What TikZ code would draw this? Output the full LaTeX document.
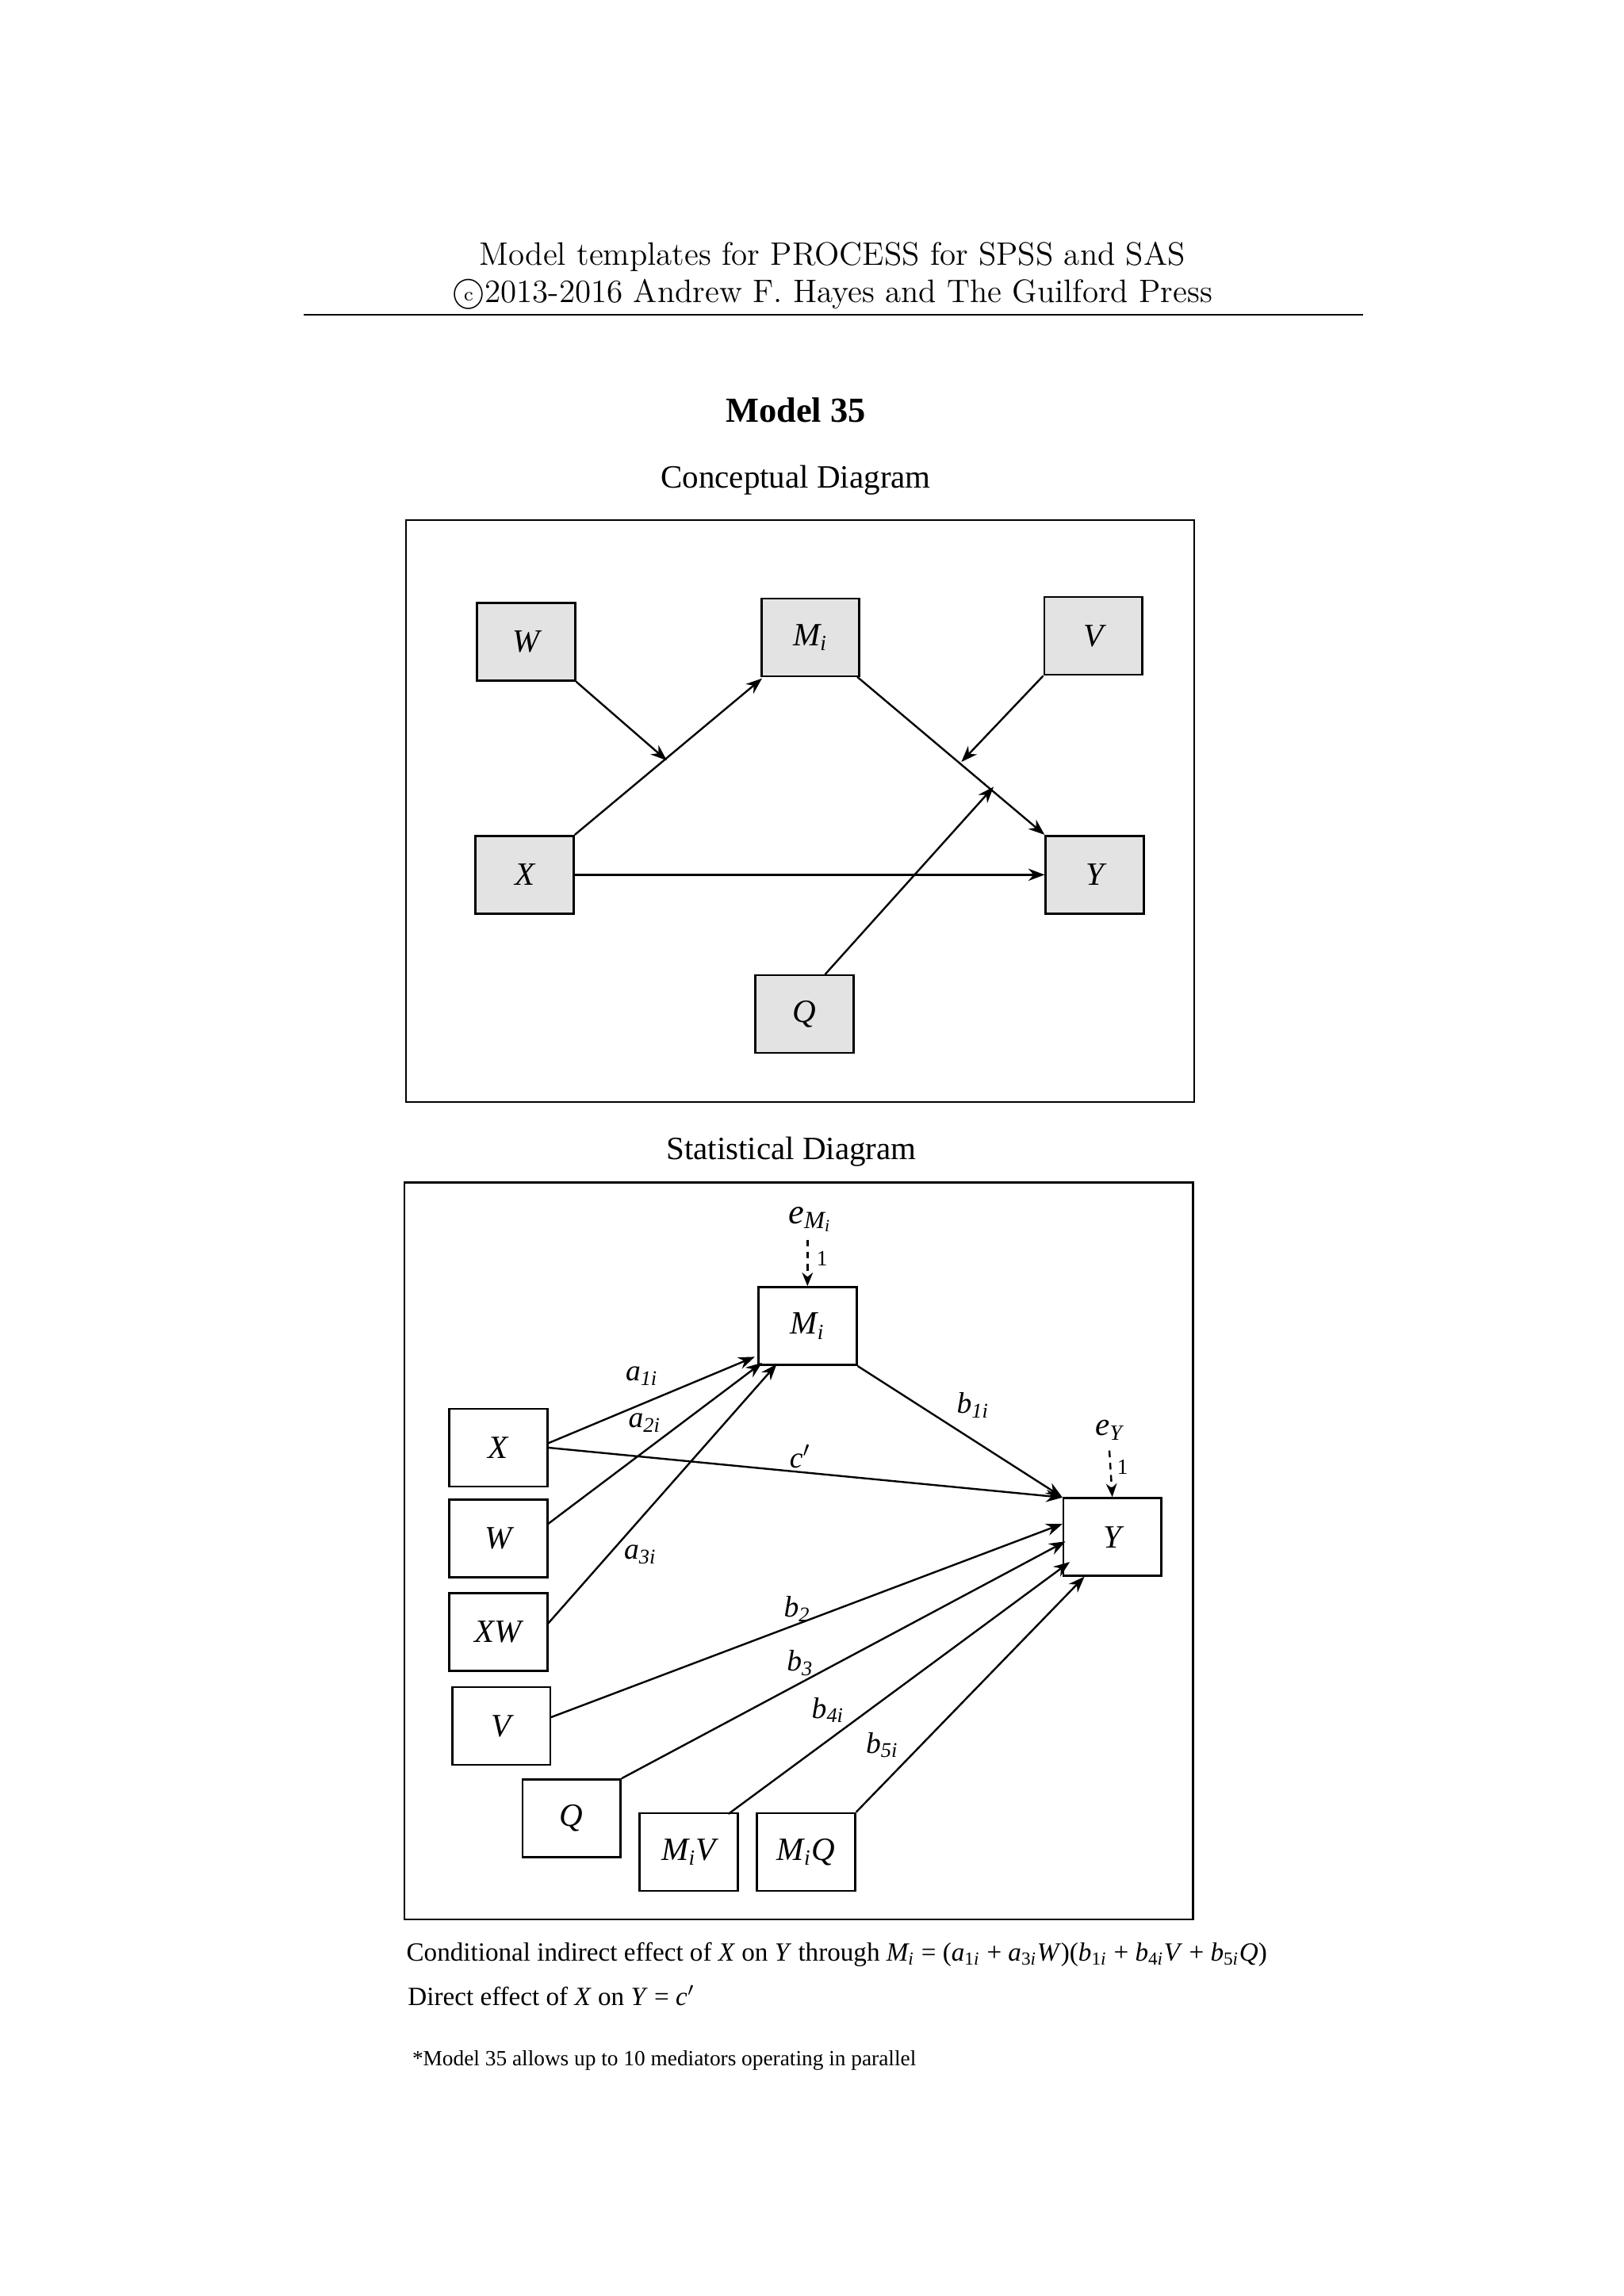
\documentclass[tikz,border=0pt]{standalone}
\usepackage{fontspec}
\setmainfont{Liberation Serif}
\usetikzlibrary{arrows.meta}
\newcommand{\sbx}[1]{\textsubscript{\textit{#1}}}
\begin{document}
\begin{tikzpicture}[x=0.541pt,y=-0.541pt,
  box/.style={draw,line width=0.8pt,minimum width=36.2pt,minimum height=28.7pt,inner sep=0pt,font=\fontsize{12}{14}\selectfont\itshape},
  gbox/.style={box,fill=gray!22},
  arr/.style={line width=0.7pt,-{Stealth[length=6pt,width=4.5pt]}},
  dar/.style={line width=0.7pt,dash pattern=on 2.5pt off 2pt,-{Stealth[length=5pt,width=4pt]}},
  lab/.style={font=\fontsize{11}{13}\selectfont\itshape,inner sep=1pt}]
\useasboundingbox (0,0) rectangle (1108,1567);
% header
\node (h1) at (568,175) {\fontfamily{lmr}\selectfont\fontsize{12}{14}\selectfont Model templates for PROCESS for SPSS and SAS};
\node (h2) at (568,201) {\fontfamily{lmr}\selectfont\fontsize{12}{14}\selectfont \textcircled{\raisebox{0.3pt}{\scriptsize c}}2013-2016 Andrew F. Hayes and The Guilford Press};
\draw[line width=0.5pt] (207,215) -- (930,215);
\node (t) at (543,280) {\fontsize{13}{15}\selectfont\bfseries Model 35};
\node (ct) at (543,328) {\fontsize{12}{14}\selectfont Conceptual Diagram};
\draw[line width=0.7pt] (277,355) rectangle (815,752);
% conceptual
\node[gbox] (cW) at (359,438) {W};
\node[gbox] (cM) at (553,435) {M\sbx{i}};
\node[gbox] (cV) at (746,434) {V};
\node[gbox] (cX) at (358,597) {X};
\node[gbox] (cY) at (747,597) {Y};
\node[gbox] (cQ) at (549,692) {Q};
\coordinate (p1) at (455,519);
\coordinate (p2) at (656,520);
\coordinate (p3) at (678,537);
\draw[arr] (cX.north east) -- (520,463);
\draw[arr] (cW.south east) -- (p1);
\draw[arr] (cV.south west) -- (p2);
\draw[arr] (585,462) -- (cY.north west);
\draw[arr] (563,665) -- (p3);
\draw[arr] (cX.east) -- (cY.west);
% statistical
\node (st) at (540,786) {\fontsize{12}{14}\selectfont Statistical Diagram};
\draw[line width=0.7pt] (276,807) rectangle (814,1310);
\node[box] (M) at (551,905) {M\sbx{i}};
\node[box] (X) at (340,988) {X};
\node[box] (W) at (340,1050) {W};
\node[box] (XW) at (340,1114) {XW};
\node[box] (V) at (342,1178) {V};
\node[box] (Q) at (390,1241) {Q};
\node[box] (MV) at (470,1264) {M\sbx{i}V};
\node[box] (MQ) at (550,1264) {M\sbx{i}Q};
\node[box] (Y) at (759,1049) {Y};
\node[lab,font=\fontsize{13}{15}\selectfont\itshape] (eM) at (553,832) {e\textsubscript{M\sbx{i}}};
\node[lab,font=\fontsize{12}{14}\selectfont\itshape] (eY) at (757,976) {e\sbx{Y}};
\draw[dar] (551,846) -- (M.north);
\node[font=\fontsize{8}{9}\selectfont] (o1) at (561,859) {1};
\draw[dar] (757,990) -- (Y.north);
\node[font=\fontsize{8}{9}\selectfont] (o2) at (766,1001) {1};
\draw[arr] (374,985) -- (515,926);
\draw[arr] (374,1040) -- (520,930);
\draw[arr] (374,1108) -- (530,931);
\draw[arr] (M.south east) -- (Y.north west);
\draw[arr] (374,988) -- (725,1022);
\draw[arr] (376,1172) -- (725,1040);
\draw[arr] (Q.north east) -- (727,1052);
\draw[arr] (497,1238) -- (730,1066);
\draw[arr] (MQ.north east) -- (740,1076);
\node[lab] (l1) at (438,939) {a\textsubscript{1\textit{i}}};
\node[lab] (l2) at (440,971) {a\textsubscript{2\textit{i}}};
\node[lab] (l3) at (546,994) {c$'$};
\node[lab] (l4) at (437,1061) {a\textsubscript{3\textit{i}}};
\node[lab] (l5) at (664,959) {b\textsubscript{1\textit{i}}};
\node[lab] (l6) at (544,1098) {b\textsubscript{2}};
\node[lab] (l7) at (546,1135) {b\textsubscript{3}};
\node[lab] (l8) at (565,1167) {b\textsubscript{4\textit{i}}};
\node[lab] (l9) at (602,1191) {b\textsubscript{5\textit{i}}};
% bottom text
\node[anchor=west,inner sep=0pt,font=\fontsize{9.7}{12}\selectfont] (f1) at (277,1334) {Conditional indirect effect of \textit{X} on \textit{Y} through \textit{M\sbx{i}} = (\textit{a}\textsubscript{1\textit{i}} + \textit{a}\textsubscript{3\textit{i}}\textit{W})(\textit{b}\textsubscript{1\textit{i}} + \textit{b}\textsubscript{4\textit{i}}\textit{V} + \textit{b}\textsubscript{5\textit{i}}\textit{Q})};
\node[anchor=west,inner sep=0pt,font=\fontsize{9.7}{12}\selectfont] (f2) at (278,1362) {Direct effect of \textit{X} on \textit{Y} = \textit{c}$'$};
\node[anchor=west,inner sep=0pt,font=\fontsize{8}{10}\selectfont] (f3) at (281,1406) {*Model 35 allows up to 10 mediators operating in parallel};
\end{tikzpicture}
\end{document}
